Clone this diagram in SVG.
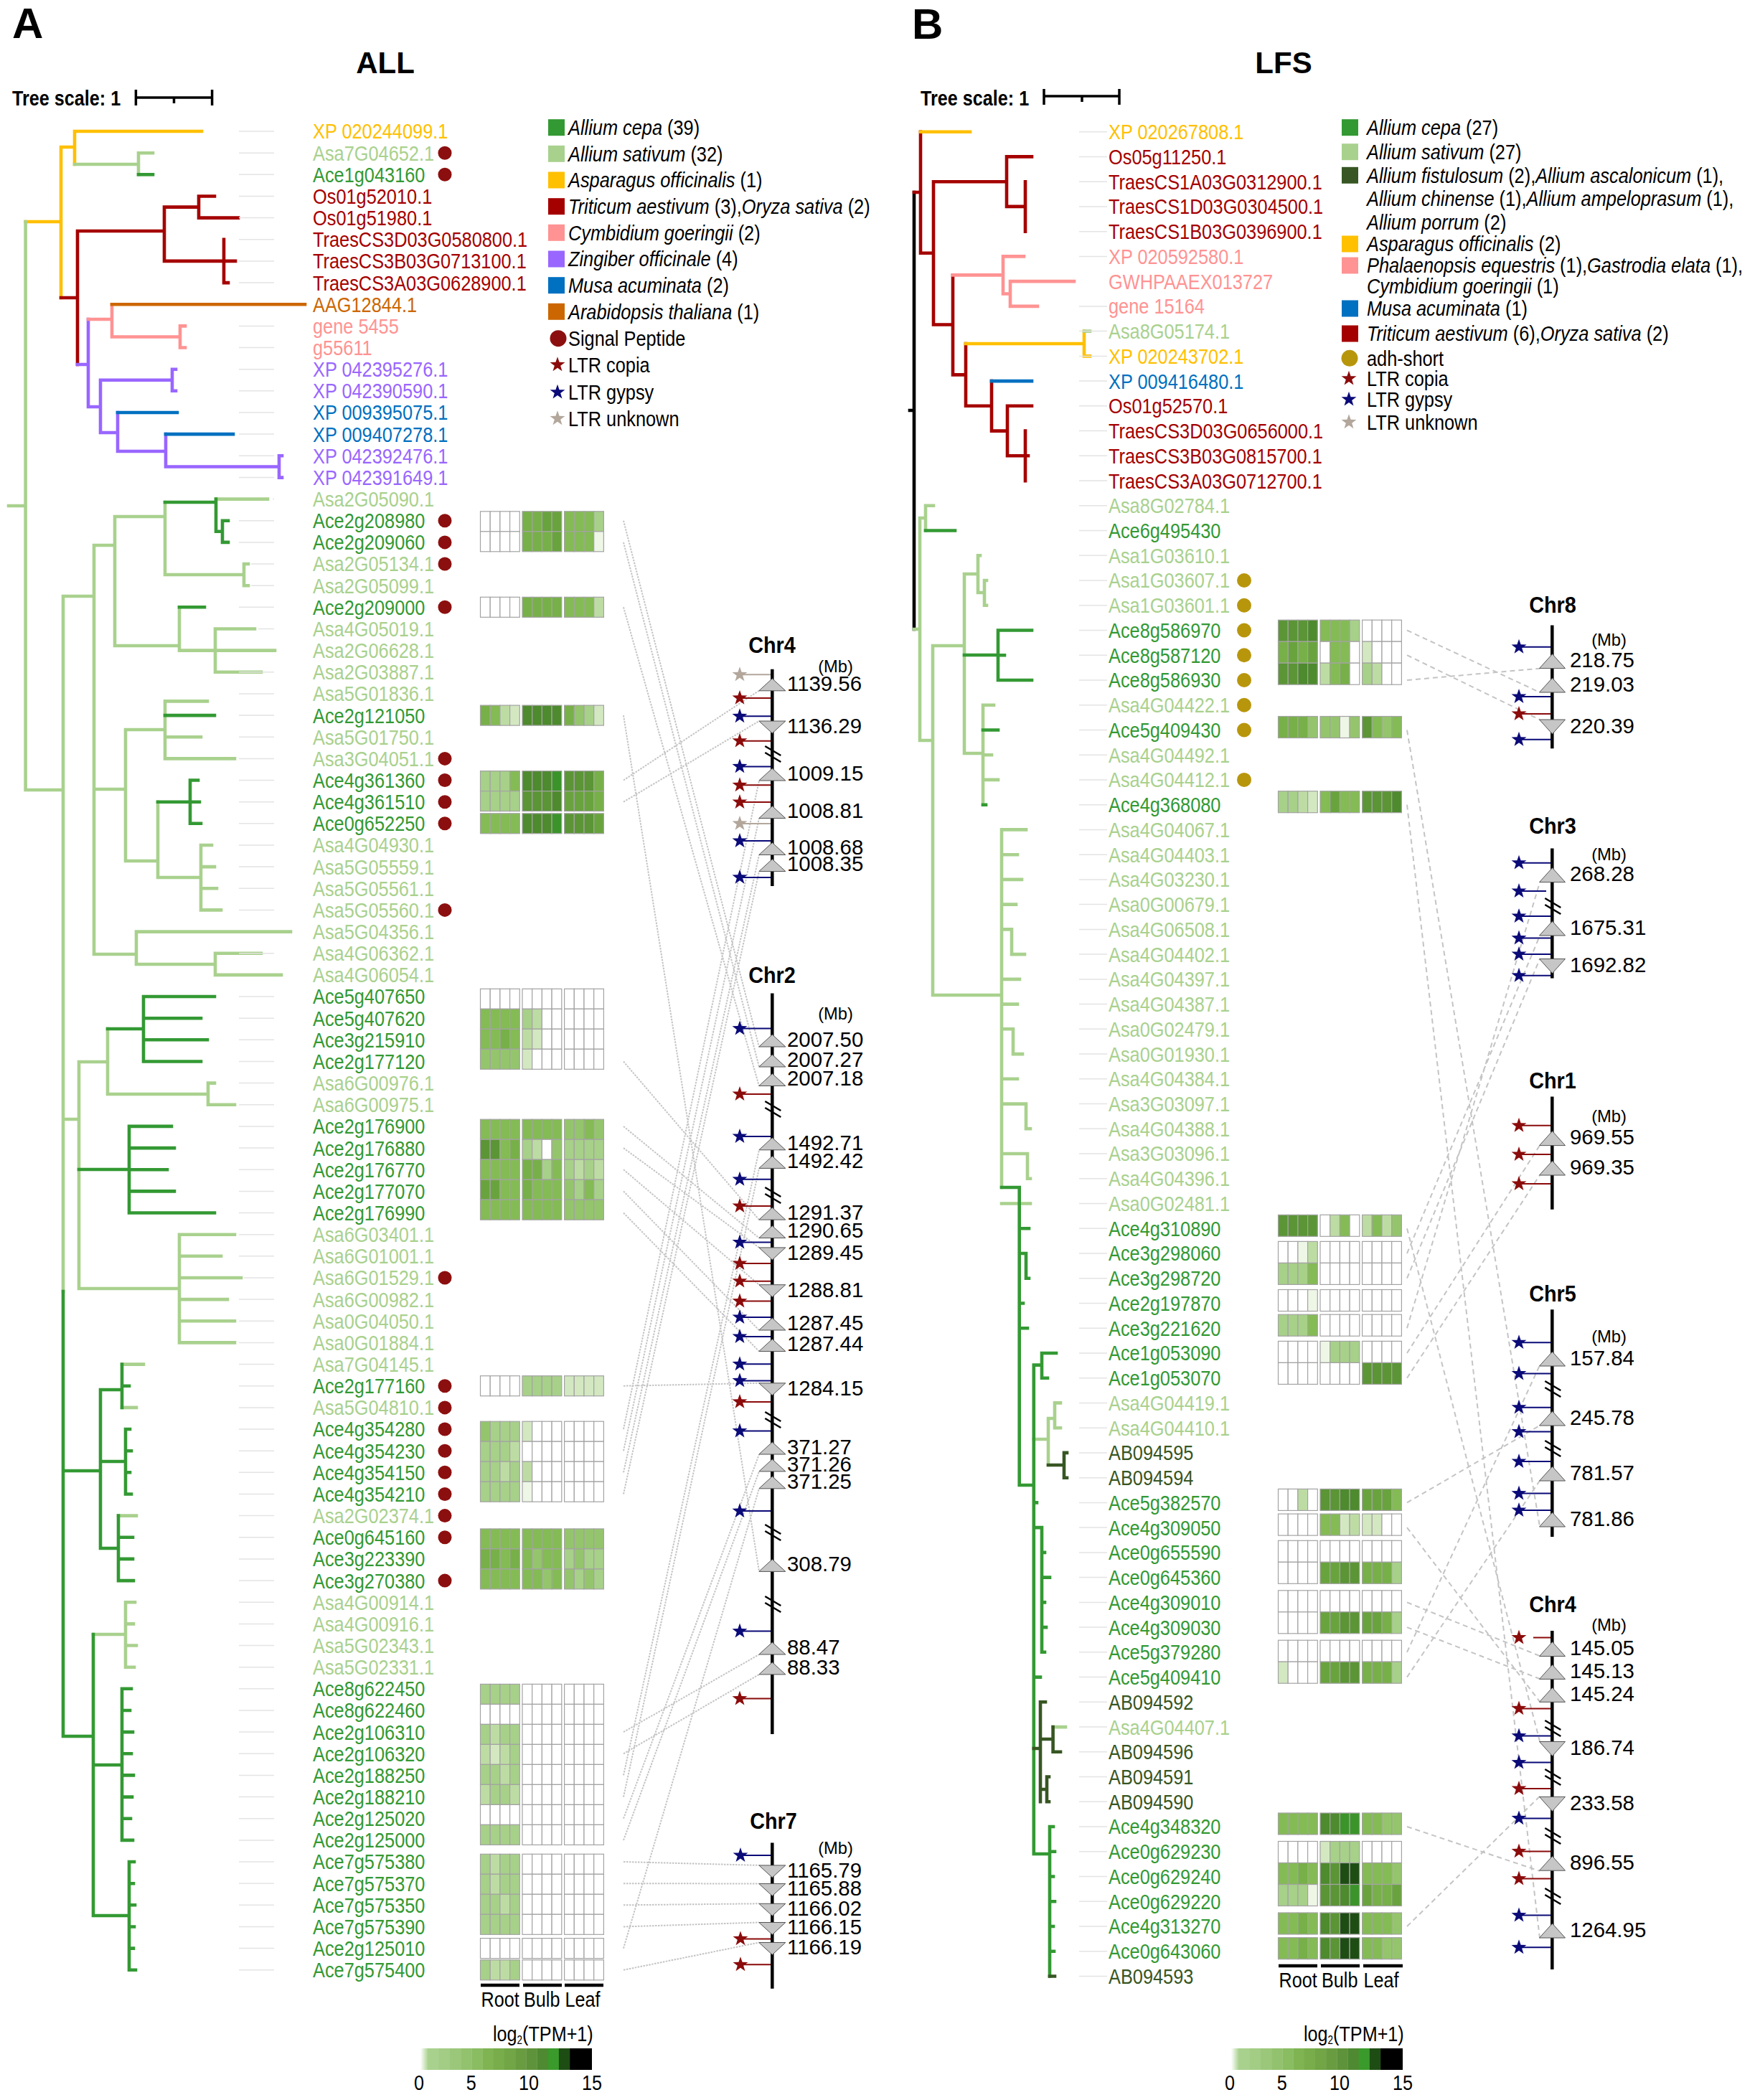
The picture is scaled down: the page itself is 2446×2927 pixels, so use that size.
<svg xmlns="http://www.w3.org/2000/svg" width="2446" height="2927" viewBox="0 0 2446 2927">
<defs>
<style>
text{font-family:"Liberation Sans",Arial,Helvetica,sans-serif;font-size:30px}
.b{font-weight:bold}
.i{font-style:italic}
.cl{font-size:24.5px}
.ce{fill:#339933}.sa{fill:#a9d18e}.as{fill:#ffc000}.tr{fill:#a50000}.cy{fill:#ff9393}.zi{fill:#9966ff}.mu{fill:#0070c0}.ar{fill:#cc6600}.fi{fill:#375623}
.T{fill:none;stroke-width:4.6;stroke-linecap:square}
.sC{stroke:#339933}.sS{stroke:#a9d18e}.sA{stroke:#ffc000}.sT{stroke:#a50000}.sP{stroke:#ff9393}.sZ{stroke:#9966ff}.sM{stroke:#0070c0}.sR{stroke:#cc6600}.sF{stroke:#375623}.sK{stroke:#000}
.hm rect{stroke:#a3a3a3;stroke-width:1.2}
.hA rect{width:13.7px;height:28px}
.hB rect{width:13.7px;height:30px}
.k0{fill:#fff}.k1{fill:#eef6e6}.k2{fill:#d3e8c1}.k3{fill:#bddca3}.k4{fill:#a7d089}.k5{fill:#94c56c}.k6{fill:#84bb55}.k7{fill:#77b048}.k8{fill:#69a33e}.k9{fill:#5b9536}.k10{fill:#4e8a2e}.k11{fill:#3b9429}.k12{fill:#1e4d14}
.cn{fill:none;stroke:#c4c4c4;stroke-width:2;stroke-dasharray:2.5 1.5}
.cnB{fill:none;stroke:#c4c4c4;stroke-width:2;stroke-dasharray:7 5}
.sr{fill:#8b0b0b}.sn{fill:#0a0a78}.su{fill:#b3a79c}
.lr{stroke:#8b0b0b;stroke-width:2;fill:none}.ln{stroke:#0a0a78;stroke-width:2;fill:none}.lu{stroke:#b3a79c;stroke-width:2;fill:none}
.chr{stroke:#000;stroke-width:4.5;fill:none}
.tri{fill:#c6c6c6;stroke:#555;stroke-width:1}
.ld{stroke:#e4e4e4;stroke-width:1.5;fill:none}
</style>
<path id="st" d="M0,-11L2.59,-3.56L10.46,-3.4L4.18,1.36L6.47,8.9L0,4.4L-6.47,8.9L-4.18,1.36L-10.46,-3.4L-2.59,-3.56Z"/>
<path id="ta" d="M0,-8.5L18.5,8.5H-18.5Z"/>
<path id="da" d="M-18.5,-8.5H18.5L0,8.5Z"/>
<path id="tb" d="M0,-10L18,10H-18Z"/>
<path id="db" d="M-18,-10H18L0,10Z"/>
<path id="bk" d="M-10,0L12,13M-10,9L12,22" stroke="#000" stroke-width="2.5" fill="none"/>
<g id="wa" fill="#fff" stroke="#a3a3a3" stroke-width="1.2"><rect width="13.7" height="28"/><rect x="13.7" width="13.7" height="28"/><rect x="27.4" width="13.7" height="28"/><rect x="41.1" width="13.7" height="28"/></g>
<g id="wb" fill="#fff" stroke="#a3a3a3" stroke-width="1.2"><rect width="13.7" height="30"/><rect x="13.7" width="13.7" height="30"/><rect x="27.4" width="13.7" height="30"/><rect x="41.1" width="13.7" height="30"/></g>
<linearGradient id="gz" x1="0" x2="1" y1="0" y2="0"><stop offset="0" stop-color="#fff"/><stop offset="1" stop-color="#a9d18e"/></linearGradient>
</defs>
<rect width="2446" height="2927" fill="#fff"/>

<text class="b" x="17" y="53" style="font-size:60px">A</text>
<text class="b" x="1271" y="54" style="font-size:60px">B</text>
<text class="b" x="537" y="102" text-anchor="middle" style="font-size:42px">ALL</text>
<text class="b" x="1789" y="102" text-anchor="middle" style="font-size:42px">LFS</text>
<text class="b" transform="translate(17,146.5) scale(0.84,1)">Tree scale: 1</text>
<text class="b" transform="translate(1283,147) scale(0.84,1)">Tree scale: 1</text>
<path d="M189.4,136H295.6M189.4,125V147M295.6,125V147M242.5,136V144M1455,134H1560M1455,124V146M1560,124V146M1508,134V142" stroke="#000" stroke-width="3.5" fill="none"/>

<g id="treeA" class="T">
<path class="sA" d="M35.6,309H85M85,205V415M85,205H104M104,183V229M104,183H281"/>
<path class="sS" d="M104,229H193M193,213.2V243.3M193,213.2H213"/>
<path class="sC" d="M193,243.3H213"/>
<path class="sT" d="M85,415H108M108,322V508M108,322H229M229,288.6V363.9M229,288.6H277M277,273.5V303.6M277,273.5H299M277,303.6H332M229,363.9H312M312,333.8V394.1M312,363.9H328M312,394.1H318"/>
<path class="sZ" d="M108,508H123M123,445V567M123,567H140M140,529.8V603M140,529.8H240M240,514.7V544.8M240,514.7H245M240,544.8H245M140,603H164M164,575V629M164,629H231M231,605.1V650.5M231,650.5H389M389,635.3V665.6M389,635.3H393M389,665.6H393"/>
<path class="sP" d="M123,445H156M156,424.2V469.5M156,469.5H251M251,454.4V484.5M251,454.4H258M251,484.5H258"/>
<path class="sR" d="M156,424.2H425"/>
<path class="sM" d="M164,575H247M231,605.1H325"/>
<path class="sS" d="M35.6,309V1101M12,705H35.6M35.6,1101H88M88,831V1800M88,831H131M131,760V1330M131,760H160M160,720V900M160,720H230M230,700V801M301,695.6H373M230,801H340M340,786V816.2M340,786H346M340,816.2H346M160,900H250M250,846.3V906.6M250,906.6H300M300,876.5V936.8M300,876.5H355M300,906.6H383M300,936.8H364M131,1100H175M175,1017V1200M175,1017H230M230,977.4V1057.4M230,977.4H289M230,1027.2H280M230,1057.4H327M175,1200H220M220,1117.7V1223M220,1223H280M280,1178V1268.4M280,1178H295M280,1208.1H299M280,1238.3H302M280,1268.4H308M131,1330H190M190,1298.6V1344M190,1298.6H405M190,1344H300M300,1328.7V1358.9M300,1328.7H364M300,1358.9H392M88,1560H110M110,1480V1796M110,1480H150M150,1434V1525M150,1525H290M290,1509.6V1539.8M290,1509.6H299M290,1539.8H327M110,1796H250M250,1720.7V1871.4M250,1720.7H327M250,1750.8H308M250,1781H336M250,1811.1H317M250,1841.3H327M250,1871.4H327M170,1901.6H200M170,1961.9H190M165,2112.6H190M130,2278H175M175,2233.2V2323.7M175,2233.2H188M175,2263.4H186M175,2293.5H190M175,2323.7H187"/>
<path class="sC" d="M88,1800V2420M230,700H301M301,695.6V740.8M301,740.8H310M310,725.7V755.9M310,725.7H318M310,755.9H318M250,846.3H285M230,997.1H299M220,1117.7H265M265,1087.5V1147.8M265,1087.5H276M265,1117.7H278M265,1147.8H280M150,1434H200M200,1389V1479.5M200,1389H299M200,1419.2H280M200,1449.3H289M200,1479.5H280M110,1630H180M180,1569.9V1690.5M180,1569.9H239M180,1600.1H243M180,1630.2H233M180,1660.4H243M180,1690.5H299M88,2050H140M140,1937V2158M140,1937H170M170,1901.6V1961.9M170,1931.7H180M140,2037H175M175,1992V2082.5M175,1992H181M175,2022.2H183M175,2052.3H181M175,2082.5H183M140,2158H165M165,2112.6V2203.1M165,2142.8H185M165,2172.9H185M165,2203.1H186M88,2420H130M130,2278V2670M130,2460H170M170,2353.8V2564.9M170,2353.8H183M170,2384H181M170,2414.1H185M170,2444.3H183M170,2474.4H186M170,2504.6H184M170,2534.7H182M170,2564.9H185M130,2670H180M180,2595V2745.8M180,2595H187M180,2625.2H186M180,2655.3H188M180,2685.5H187M180,2715.6H186M180,2745.8H189"/>
</g>

<g id="treeB" class="T">
<path class="sK" d="M1274,268V877M1268,572H1274"/>
<path class="sT" d="M1274,268H1283M1283,183.7V352.8M1283,352.8H1301M1301,253.2V452.5M1301,253.2H1403M1403,218.4V287.9M1403,218.4H1438M1403,287.9H1429M1429,253.2V322.7M1301,452.5H1328M1328,383.4V522.4M1328,522.4H1346M1346,479V565.8M1346,565.8H1382M1382,531.1V600.6M1382,600.6H1404M1404,565.8V635.3M1404,565.8H1438M1404,635.3H1429M1429,600.6V670.1M1429,635.3H1433"/>
<path class="sA" d="M1283,183.7H1352M1346,479H1511M1511,461.6V496.4M1511,496.4H1519"/>
<path class="sS" d="M1511,461.6H1519"/>
<path class="sP" d="M1328,383.4H1398M1398,357.4V409.5M1398,357.4H1427M1398,409.5H1408M1408,392.1V426.9M1408,392.1H1497M1408,426.9H1446"/>
<path class="sM" d="M1382,531.1H1438"/>
<path class="sS" d="M1274,877H1282M1282,722V1032M1282,722H1290M1290,704.8V739.5M1290,704.8H1301M1282,1032H1300M1300,900V1387M1300,900H1344M1344,800V1050M1344,800H1363M1363,774.3V826M1363,774.3H1366M1363,826H1372M1372,809V843.8M1372,809H1375M1372,843.8H1375M1344,1050H1370M1370,982.7V1121.7M1370,982.7H1385M1370,1052.2H1382M1370,1086.9H1391M1300,1387H1396M1396,1156.4V1655M1396,1156.4H1430M1396,1191.2H1418M1396,1225.9H1424M1396,1260.6H1416M1396,1295.4H1410M1410,1295.4V1330.1M1410,1330.1H1428M1396,1364.9H1421M1396,1399.6H1418M1396,1434.3H1412M1412,1434.3V1469.1M1412,1469.1H1425M1396,1503.8H1418M1396,1538.6H1430M1430,1538.6V1573.3M1430,1573.3H1436M1396,1608H1432M1432,1608V1642.8M1432,1642.8H1436M1396,1677.5H1436M1440.8,2006H1461M1461,1977V2042M1461,1977H1470M1470,1955.4V1990.2M1470,1955.4H1478M1470,1990.2H1478M1467.6,2407.1H1485"/>
<path class="sC" d="M1290,739.5H1331M1344,913H1391M1391,878.5V948M1391,878.5H1438M1391,913.2H1400M1391,948H1438M1370,1017.5H1391M1370,1121.7H1374M1396,1655H1420.7M1420.7,1655V2070M1420.7,1712.3H1434M1420.7,1747H1430M1430,1747V1781.7M1430,1781.7H1434M1420.7,1816.5H1426M1420.7,1851.2H1432M1420.7,2070H1440.8M1440.8,1902.6V2584M1440.8,1902.6H1452M1452,1886V1920.7M1452,1886H1472M1452,1920.7H1460M1440.8,2094.4H1445M1440.8,2129.1H1452M1452,2129.1V2302.8M1452,2163.9H1456M1452,2198.6H1463M1452,2233.4H1456M1452,2268.1H1458M1452,2302.8H1456M1440.8,2337.6H1450M1440.8,2584H1463M1463,2546V2754.5M1463,2546H1468M1463,2580.8H1470M1463,2615.5H1468M1463,2650.2H1470M1463,2685H1468M1463,2719.7H1469"/>
<path class="sF" d="M1461,2042H1483M1483,2024.9V2059.7M1483,2024.9H1487M1483,2059.7H1487M1440.8,2437H1450M1450,2372.3V2511.3M1450,2372.3H1457M1450,2424H1467.6M1467.6,2407.1V2441.8M1467.6,2441.8H1478M1450,2494H1459M1459,2476.5V2511.3M1459,2476.5H1462M1459,2511.3H1462M1463,2754.5H1470"/>
</g>

<path class="ld" d="M333,183H382M333,213.2H382M333,243.3H382M333,273.5H382M333,303.6H382M333,333.8H382M333,363.9H382M333,394.1H382M333,454.4H382M333,484.5H382M333,514.7H382M333,544.8H382M333,575H382M333,605.1H382M333,635.3H382M333,665.4H382M380,695.6H382M333,725.7H382M333,755.9H382M350,786H382M350,816.2H382M333,846.3H382M360,876.5H382M333,936.8H382M333,966.9H382M333,997.1H382M333,1027.2H382M333,1057.4H382M333,1087.5H382M333,1117.7H382M333,1147.8H382M333,1178H382M333,1208.1H382M333,1238.3H382M333,1268.4H382M333,1328.7H382M333,1389H382M333,1419.2H382M333,1449.3H382M333,1479.5H382M333,1509.6H382M333,1539.8H382M333,1569.9H382M333,1600.1H382M333,1630.2H382M333,1660.4H382M333,1690.5H382M333,1720.7H382M333,1750.8H382M340,1781H382M333,1811.1H382M333,1841.3H382M333,1871.4H382M333,1901.6H382M333,1931.7H382M333,1961.9H382M333,1992H382M333,2022.2H382M333,2052.3H382M333,2082.5H382M333,2112.6H382M333,2142.8H382M333,2172.9H382M333,2203.1H382M333,2233.2H382M333,2263.4H382M333,2293.5H382M333,2323.7H382M333,2353.8H382M333,2384H382M333,2414.1H382M333,2444.3H382M333,2474.4H382M333,2504.6H382M333,2534.7H382M333,2564.9H382M333,2595H382M333,2625.2H382M333,2655.3H382M333,2685.5H382M333,2715.6H382M333,2745.8H382"/>
<path class="ld" d="M1504,183.7H1543M1504,218.4H1543M1504,253.2H1543M1504,287.9H1543M1504,322.7H1543M1504,357.4H1543M1504,426.9H1543M1504,461.6H1543M1504,496.4H1543M1504,531.1H1543M1504,565.8H1543M1504,600.6H1543M1504,635.3H1543M1504,670.1H1543M1504,704.8H1543M1504,739.5H1543M1504,774.3H1543M1504,809H1543M1504,843.8H1543M1504,878.5H1543M1504,913.2H1543M1504,948H1543M1504,982.7H1543M1504,1017.5H1543M1504,1052.2H1543M1504,1086.9H1543M1504,1121.7H1543M1504,1156.4H1543M1504,1191.2H1543M1504,1225.9H1543M1504,1260.6H1543M1504,1295.4H1543M1504,1330.1H1543M1504,1364.9H1543M1504,1399.6H1543M1504,1434.3H1543M1504,1469.1H1543M1504,1503.8H1543M1504,1538.6H1543M1504,1573.3H1543M1504,1608H1543M1504,1642.8H1543M1504,1677.5H1543M1504,1712.3H1543M1504,1747H1543M1504,1781.7H1543M1504,1816.5H1543M1504,1851.2H1543M1504,1886H1543M1504,1920.7H1543M1504,1955.4H1543M1504,1990.2H1543M1504,2024.9H1543M1504,2059.7H1543M1504,2094.4H1543M1504,2129.1H1543M1504,2163.9H1543M1504,2198.6H1543M1504,2233.4H1543M1504,2268.1H1543M1504,2302.8H1543M1504,2337.6H1543M1504,2372.3H1543M1504,2407.1H1543M1504,2441.8H1543M1504,2476.5H1543M1504,2511.3H1543M1504,2546H1543M1504,2580.8H1543M1504,2615.5H1543M1504,2650.2H1543M1504,2685H1543M1504,2719.7H1543M1504,2754.5H1543"/>

<g id="labelsA" transform="translate(436,0) scale(0.845,1)">
<text class="as" y="193.5">XP 020244099.1</text>
<text class="sa" y="223.7">Asa7G04652.1</text>
<text class="ce" y="253.8">Ace1g043160</text>
<text class="tr" y="284">Os01g52010.1</text>
<text class="tr" y="314.1">Os01g51980.1</text>
<text class="tr" y="344.3">TraesCS3D03G0580800.1</text>
<text class="tr" y="374.4">TraesCS3B03G0713100.1</text>
<text class="tr" y="404.6">TraesCS3A03G0628900.1</text>
<text class="ar" y="434.7">AAG12844.1</text>
<text class="cy" y="464.9">gene 5455</text>
<text class="cy" y="495">g55611</text>
<text class="zi" y="525.2">XP 042395276.1</text>
<text class="zi" y="555.3">XP 042390590.1</text>
<text class="mu" y="585.5">XP 009395075.1</text>
<text class="mu" y="615.6">XP 009407278.1</text>
<text class="zi" y="645.8">XP 042392476.1</text>
<text class="zi" y="675.9">XP 042391649.1</text>
<text class="sa" y="706.1">Asa2G05090.1</text>
<text class="ce" y="736.2">Ace2g208980</text>
<text class="ce" y="766.4">Ace2g209060</text>
<text class="sa" y="796.5">Asa2G05134.1</text>
<text class="sa" y="826.7">Asa2G05099.1</text>
<text class="ce" y="856.8">Ace2g209000</text>
<text class="sa" y="887">Asa4G05019.1</text>
<text class="sa" y="917.1">Asa2G06628.1</text>
<text class="sa" y="947.3">Asa2G03887.1</text>
<text class="sa" y="977.4">Asa5G01836.1</text>
<text class="ce" y="1007.6">Ace2g121050</text>
<text class="sa" y="1037.7">Asa5G01750.1</text>
<text class="sa" y="1067.9">Asa3G04051.1</text>
<text class="ce" y="1098">Ace4g361360</text>
<text class="ce" y="1128.2">Ace4g361510</text>
<text class="ce" y="1158.3">Ace0g652250</text>
<text class="sa" y="1188.5">Asa4G04930.1</text>
<text class="sa" y="1218.6">Asa5G05559.1</text>
<text class="sa" y="1248.8">Asa5G05561.1</text>
<text class="sa" y="1278.9">Asa5G05560.1</text>
<text class="sa" y="1309.1">Asa5G04356.1</text>
<text class="sa" y="1339.2">Asa4G06362.1</text>
<text class="sa" y="1369.4">Asa4G06054.1</text>
<text class="ce" y="1399.5">Ace5g407650</text>
<text class="ce" y="1429.7">Ace5g407620</text>
<text class="ce" y="1459.8">Ace3g215910</text>
<text class="ce" y="1490">Ace2g177120</text>
<text class="sa" y="1520.1">Asa6G00976.1</text>
<text class="sa" y="1550.3">Asa6G00975.1</text>
<text class="ce" y="1580.4">Ace2g176900</text>
<text class="ce" y="1610.6">Ace2g176880</text>
<text class="ce" y="1640.7">Ace2g176770</text>
<text class="ce" y="1670.9">Ace2g177070</text>
<text class="ce" y="1701">Ace2g176990</text>
<text class="sa" y="1731.2">Asa6G03401.1</text>
<text class="sa" y="1761.3">Asa6G01001.1</text>
<text class="sa" y="1791.5">Asa6G01529.1</text>
<text class="sa" y="1821.6">Asa6G00982.1</text>
<text class="sa" y="1851.8">Asa0G04050.1</text>
<text class="sa" y="1881.9">Asa0G01884.1</text>
<text class="sa" y="1912.1">Asa7G04145.1</text>
<text class="ce" y="1942.2">Ace2g177160</text>
<text class="sa" y="1972.4">Asa5G04810.1</text>
<text class="ce" y="2002.5">Ace4g354280</text>
<text class="ce" y="2032.7">Ace4g354230</text>
<text class="ce" y="2062.8">Ace4g354150</text>
<text class="ce" y="2093">Ace4g354210</text>
<text class="sa" y="2123.1">Asa2G02374.1</text>
<text class="ce" y="2153.3">Ace0g645160</text>
<text class="ce" y="2183.4">Ace3g223390</text>
<text class="ce" y="2213.6">Ace3g270380</text>
<text class="sa" y="2243.7">Asa4G00914.1</text>
<text class="sa" y="2273.9">Asa4G00916.1</text>
<text class="sa" y="2304">Asa5G02343.1</text>
<text class="sa" y="2334.2">Asa5G02331.1</text>
<text class="ce" y="2364.3">Ace8g622450</text>
<text class="ce" y="2394.5">Ace8g622460</text>
<text class="ce" y="2424.6">Ace2g106310</text>
<text class="ce" y="2454.8">Ace2g106320</text>
<text class="ce" y="2484.9">Ace2g188250</text>
<text class="ce" y="2515.1">Ace2g188210</text>
<text class="ce" y="2545.2">Ace2g125020</text>
<text class="ce" y="2575.4">Ace2g125000</text>
<text class="ce" y="2605.5">Ace7g575380</text>
<text class="ce" y="2635.7">Ace7g575370</text>
<text class="ce" y="2665.8">Ace7g575350</text>
<text class="ce" y="2696">Ace7g575390</text>
<text class="ce" y="2726.1">Ace2g125010</text>
<text class="ce" y="2756.3">Ace7g575400</text>
</g>

<g id="labelsB" transform="translate(1545,0) scale(0.845,1)">
<text class="as" y="194.2">XP 020267808.1</text>
<text class="tr" y="228.9">Os05g11250.1</text>
<text class="tr" y="263.7">TraesCS1A03G0312900.1</text>
<text class="tr" y="298.4">TraesCS1D03G0304500.1</text>
<text class="tr" y="333.2">TraesCS1B03G0396900.1</text>
<text class="cy" y="367.9">XP 020592580.1</text>
<text class="cy" y="402.6">GWHPAAEX013727</text>
<text class="cy" y="437.4">gene 15164</text>
<text class="sa" y="472.1">Asa8G05174.1</text>
<text class="as" y="506.9">XP 020243702.1</text>
<text class="mu" y="541.6">XP 009416480.1</text>
<text class="tr" y="576.3">Os01g52570.1</text>
<text class="tr" y="611.1">TraesCS3D03G0656000.1</text>
<text class="tr" y="645.8">TraesCS3B03G0815700.1</text>
<text class="tr" y="680.6">TraesCS3A03G0712700.1</text>
<text class="sa" y="715.3">Asa8G02784.1</text>
<text class="ce" y="750">Ace6g495430</text>
<text class="sa" y="784.8">Asa1G03610.1</text>
<text class="sa" y="819.5">Asa1G03607.1</text>
<text class="sa" y="854.3">Asa1G03601.1</text>
<text class="ce" y="889">Ace8g586970</text>
<text class="ce" y="923.7">Ace8g587120</text>
<text class="ce" y="958.5">Ace8g586930</text>
<text class="sa" y="993.2">Asa4G04422.1</text>
<text class="ce" y="1028">Ace5g409430</text>
<text class="sa" y="1062.7">Asa4G04492.1</text>
<text class="sa" y="1097.4">Asa4G04412.1</text>
<text class="ce" y="1132.2">Ace4g368080</text>
<text class="sa" y="1166.9">Asa4G04067.1</text>
<text class="sa" y="1201.7">Asa4G04403.1</text>
<text class="sa" y="1236.4">Asa4G03230.1</text>
<text class="sa" y="1271.1">Asa0G00679.1</text>
<text class="sa" y="1305.9">Asa4G06508.1</text>
<text class="sa" y="1340.6">Asa4G04402.1</text>
<text class="sa" y="1375.4">Asa4G04397.1</text>
<text class="sa" y="1410.1">Asa4G04387.1</text>
<text class="sa" y="1444.8">Asa0G02479.1</text>
<text class="sa" y="1479.6">Asa0G01930.1</text>
<text class="sa" y="1514.3">Asa4G04384.1</text>
<text class="sa" y="1549.1">Asa3G03097.1</text>
<text class="sa" y="1583.8">Asa4G04388.1</text>
<text class="sa" y="1618.5">Asa3G03096.1</text>
<text class="sa" y="1653.3">Asa4G04396.1</text>
<text class="sa" y="1688">Asa0G02481.1</text>
<text class="ce" y="1722.8">Ace4g310890</text>
<text class="ce" y="1757.5">Ace3g298060</text>
<text class="ce" y="1792.2">Ace3g298720</text>
<text class="ce" y="1827">Ace2g197870</text>
<text class="ce" y="1861.7">Ace3g221620</text>
<text class="ce" y="1896.5">Ace1g053090</text>
<text class="ce" y="1931.2">Ace1g053070</text>
<text class="sa" y="1965.9">Asa4G04419.1</text>
<text class="sa" y="2000.7">Asa4G04410.1</text>
<text class="fi" y="2035.4">AB094595</text>
<text class="fi" y="2070.2">AB094594</text>
<text class="ce" y="2104.9">Ace5g382570</text>
<text class="ce" y="2139.6">Ace4g309050</text>
<text class="ce" y="2174.4">Ace0g655590</text>
<text class="ce" y="2209.1">Ace0g645360</text>
<text class="ce" y="2243.9">Ace4g309010</text>
<text class="ce" y="2278.6">Ace4g309030</text>
<text class="ce" y="2313.3">Ace5g379280</text>
<text class="ce" y="2348.1">Ace5g409410</text>
<text class="fi" y="2382.8">AB094592</text>
<text class="sa" y="2417.6">Asa4G04407.1</text>
<text class="fi" y="2452.3">AB094596</text>
<text class="fi" y="2487">AB094591</text>
<text class="fi" y="2521.8">AB094590</text>
<text class="ce" y="2556.5">Ace4g348320</text>
<text class="ce" y="2591.3">Ace0g629230</text>
<text class="ce" y="2626">Ace0g629240</text>
<text class="ce" y="2660.7">Ace0g629220</text>
<text class="ce" y="2695.5">Ace4g313270</text>
<text class="ce" y="2730.2">Ace0g643060</text>
<text class="fi" y="2765">AB094593</text>
</g>

<g id="dotsA" fill="#8c0f0f">
<circle cx="620" cy="213.2" r="9.5"/><circle cx="620" cy="243.3" r="9.5"/><circle cx="620" cy="725.7" r="9.5"/><circle cx="620" cy="755.9" r="9.5"/><circle cx="620" cy="786" r="9.5"/><circle cx="620" cy="846.3" r="9.5"/><circle cx="620" cy="1057.4" r="9.5"/><circle cx="620" cy="1087.5" r="9.5"/><circle cx="620" cy="1117.7" r="9.5"/><circle cx="620" cy="1147.8" r="9.5"/><circle cx="620" cy="1268.4" r="9.5"/><circle cx="620" cy="1781" r="9.5"/><circle cx="620" cy="1931.7" r="9.5"/><circle cx="620" cy="1961.9" r="9.5"/><circle cx="620" cy="1992" r="9.5"/><circle cx="620" cy="2022.2" r="9.5"/><circle cx="620" cy="2052.3" r="9.5"/><circle cx="620" cy="2082.5" r="9.5"/><circle cx="620" cy="2112.6" r="9.5"/><circle cx="620" cy="2142.8" r="9.5"/><circle cx="620" cy="2203.1" r="9.5"/>
</g>
<g id="dotsB" fill="#b8960c">
<circle cx="1734" cy="809" r="10"/><circle cx="1734" cy="843.8" r="10"/><circle cx="1734" cy="878.5" r="10"/><circle cx="1734" cy="913.2" r="10"/><circle cx="1734" cy="948" r="10"/><circle cx="1734" cy="982.7" r="10"/><circle cx="1734" cy="1017.5" r="10"/><circle cx="1734" cy="1086.9" r="10"/>
</g>

<g id="legendA">
<rect x="764" y="166.2" width="23" height="23" fill="#339933"/>
<rect x="764" y="202.8" width="23" height="23" fill="#a9d18e"/>
<rect x="764" y="239.5" width="23" height="23" fill="#ffc000"/>
<rect x="764" y="276.2" width="23" height="23" fill="#a50000"/>
<rect x="764" y="312.8" width="23" height="23" fill="#ff9393"/>
<rect x="764" y="349.5" width="23" height="23" fill="#9966ff"/>
<rect x="764" y="386.2" width="23" height="23" fill="#0070c0"/>
<rect x="764" y="422.8" width="23" height="23" fill="#cc6600"/>
<circle cx="778" cy="471.7" r="11.5" fill="#8c0f0f"/>
<use href="#st" x="777" y="508.3" class="sr"/>
<use href="#st" x="777" y="546.7" class="sn"/>
<use href="#st" x="777" y="583.3" class="su"/>
<g transform="translate(792,0) scale(0.845,1)">
<text y="188.2"><tspan class="i">Allium cepa</tspan> (39)</text>
<text y="224.8"><tspan class="i">Allium sativum</tspan> (32)</text>
<text y="261.5"><tspan class="i">Asparagus officinalis</tspan> (1)</text>
<text y="298.2"><tspan class="i">Triticum aestivum</tspan> (3),<tspan class="i">Oryza sativa</tspan> (2)</text>
<text y="334.8"><tspan class="i">Cymbidium goeringii</tspan> (2)</text>
<text y="371.5"><tspan class="i">Zingiber officinale</tspan> (4)</text>
<text y="408.2"><tspan class="i">Musa acuminata</tspan> (2)</text>
<text y="444.8"><tspan class="i">Arabidopsis thaliana</tspan> (1)</text>
<text y="482.2">Signal Peptide</text>
<text y="518.8">LTR copia</text>
<text y="557.2">LTR gypsy</text>
<text y="593.8">LTR unknown</text>
</g>
</g>

<g id="legendB">
<rect x="1870" y="166.2" width="23" height="23" fill="#339933"/>
<rect x="1870" y="200.2" width="23" height="23" fill="#a9d18e"/>
<rect x="1870" y="232.8" width="23" height="23" fill="#375623"/>
<rect x="1870" y="328.5" width="23" height="23" fill="#ffc000"/>
<rect x="1870" y="358.5" width="23" height="23" fill="#ff9393"/>
<rect x="1870" y="418.5" width="23" height="23" fill="#0070c0"/>
<rect x="1870" y="453.5" width="23" height="23" fill="#a50000"/>
<circle cx="1881" cy="499.3" r="11.5" fill="#b8960c"/>
<use href="#st" x="1880" y="527.7" class="sr"/>
<use href="#st" x="1880" y="556.7" class="sn"/>
<use href="#st" x="1880" y="588.3" class="su"/>
<g transform="translate(1905,0) scale(0.845,1)">
<text y="188.2"><tspan class="i">Allium cepa</tspan> (27)</text>
<text y="222.2"><tspan class="i">Allium sativum</tspan> (27)</text>
<text y="254.8"><tspan class="i">Allium fistulosum</tspan> (2),<tspan class="i">Allium ascalonicum</tspan> (1),</text>
<text y="287.2"><tspan class="i">Allium chinense</tspan> (1),<tspan class="i">Allium ampeloprasum</tspan> (1),</text>
<text y="320.5"><tspan class="i">Allium porrum</tspan> (2)</text>
<text y="350.5"><tspan class="i">Asparagus officinalis</tspan> (2)</text>
<text y="380.5"><tspan class="i">Phalaenopsis equestris</tspan> (1),<tspan class="i">Gastrodia elata</tspan> (1),</text>
<text y="408.8"><tspan class="i">Cymbidium goeringii</tspan> (1)</text>
<text y="440.5"><tspan class="i">Musa acuminata</tspan> (1)</text>
<text y="475.5"><tspan class="i">Triticum aestivum</tspan> (6),<tspan class="i">Oryza sativa</tspan> (2)</text>
<text y="509.8">adh-short</text>
<text y="538.2">LTR copia</text>
<text y="567.2">LTR gypsy</text>
<text y="598.8">LTR unknown</text>
</g>
</g>

<g id="heatA" class="hm hA">
<g transform="translate(669.5,712.8)"><use href="#wa"/><rect x="58.5" class="k7"/><rect x="72.2" class="k7"/><rect x="85.9" class="k8"/><rect x="99.6" class="k8"/><rect x="117.1" class="k6"/><rect x="130.8" class="k6"/><rect x="144.5" class="k6"/><rect x="158.2" class="k4"/></g>
<g transform="translate(669.5,740.8)"><use href="#wa"/><rect x="58.5" class="k7"/><rect x="72.2" class="k7"/><rect x="85.9" class="k7"/><rect x="99.6" class="k8"/><rect x="117.1" class="k6"/><rect x="130.8" class="k6"/><rect x="144.5" class="k6"/><rect x="158.2" class="k1"/></g>
<g transform="translate(669.5,832.3)"><use href="#wa"/><rect x="58.5" class="k7"/><rect x="72.2" class="k7"/><rect x="85.9" class="k7"/><rect x="99.6" class="k7"/><rect x="117.1" class="k6"/><rect x="130.8" class="k6"/><rect x="144.5" class="k6"/><rect x="158.2" class="k3"/></g>
<g transform="translate(669.5,983.1)"><rect class="k7"/><rect x="13.7" class="k6"/><rect x="27.4" class="k3"/><rect x="41.1" class="k2"/><rect x="58.5" class="k10"/><rect x="72.2" class="k10"/><rect x="85.9" class="k10"/><rect x="99.6" class="k10"/><rect x="117.1" class="k7"/><rect x="130.8" class="k5"/><rect x="144.5" class="k4"/><rect x="158.2" class="k2"/></g>
<g transform="translate(669.5,1074.6)"><rect class="k4"/><rect x="13.7" class="k4"/><rect x="27.4" class="k4"/><rect x="41.1" class="k6"/><rect x="58.5" class="k10"/><rect x="72.2" class="k10"/><rect x="85.9" class="k10"/><rect x="99.6" class="k11"/><rect x="117.1" class="k9"/><rect x="130.8" class="k9"/><rect x="144.5" class="k9"/><rect x="158.2" class="k7"/></g>
<g transform="translate(669.5,1102.6)"><rect class="k4"/><rect x="13.7" class="k4"/><rect x="27.4" class="k4"/><rect x="41.1" class="k4"/><rect x="58.5" class="k9"/><rect x="72.2" class="k9"/><rect x="85.9" class="k9"/><rect x="99.6" class="k10"/><rect x="117.1" class="k8"/><rect x="130.8" class="k8"/><rect x="144.5" class="k8"/><rect x="158.2" class="k7"/></g>
<g transform="translate(669.5,1133.8)"><rect class="k6"/><rect x="13.7" class="k6"/><rect x="27.4" class="k6"/><rect x="41.1" class="k6"/><rect x="58.5" class="k10"/><rect x="72.2" class="k10"/><rect x="85.9" class="k10"/><rect x="99.6" class="k11"/><rect x="117.1" class="k9"/><rect x="130.8" class="k9"/><rect x="144.5" class="k9"/><rect x="158.2" class="k8"/></g>
<g transform="translate(669.5,1378.3)"><use href="#wa"/><use href="#wa" x="58.5"/><use href="#wa" x="117.1"/></g>
<g transform="translate(669.5,1406.3)"><rect class="k6"/><rect x="13.7" class="k6"/><rect x="27.4" class="k6"/><rect x="41.1" class="k6"/><rect x="58.5" class="k4"/><rect x="72.2" class="k3"/><rect x="85.9" class="k0"/><rect x="99.6" class="k0"/><use href="#wa" x="117.1"/></g>
<g transform="translate(669.5,1434.3)"><rect class="k6"/><rect x="13.7" class="k6"/><rect x="27.4" class="k7"/><rect x="41.1" class="k6"/><rect x="58.5" class="k3"/><rect x="72.2" class="k2"/><rect x="85.9" class="k0"/><rect x="99.6" class="k0"/><use href="#wa" x="117.1"/></g>
<g transform="translate(669.5,1462.3)"><rect class="k5"/><rect x="13.7" class="k5"/><rect x="27.4" class="k5"/><rect x="41.1" class="k5"/><rect x="58.5" class="k2"/><rect x="72.2" class="k0"/><rect x="85.9" class="k0"/><rect x="99.6" class="k0"/><use href="#wa" x="117.1"/></g>
<g transform="translate(669.5,1560.2)"><rect class="k6"/><rect x="13.7" class="k6"/><rect x="27.4" class="k6"/><rect x="41.1" class="k6"/><rect x="58.5" class="k6"/><rect x="72.2" class="k6"/><rect x="85.9" class="k6"/><rect x="99.6" class="k6"/><rect x="117.1" class="k5"/><rect x="130.8" class="k5"/><rect x="144.5" class="k6"/><rect x="158.2" class="k5"/></g>
<g transform="translate(669.5,1588.2)"><rect class="k9"/><rect x="13.7" class="k9"/><rect x="27.4" class="k6"/><rect x="41.1" class="k7"/><rect x="58.5" class="k4"/><rect x="72.2" class="k3"/><rect x="85.9" class="k0"/><rect x="99.6" class="k5"/><rect x="117.1" class="k4"/><rect x="130.8" class="k4"/><rect x="144.5" class="k4"/><rect x="158.2" class="k4"/></g>
<g transform="translate(669.5,1616.2)"><rect class="k6"/><rect x="13.7" class="k6"/><rect x="27.4" class="k6"/><rect x="41.1" class="k6"/><rect x="58.5" class="k7"/><rect x="72.2" class="k7"/><rect x="85.9" class="k4"/><rect x="99.6" class="k6"/><rect x="117.1" class="k4"/><rect x="130.8" class="k3"/><rect x="144.5" class="k4"/><rect x="158.2" class="k3"/></g>
<g transform="translate(669.5,1644.2)"><rect class="k8"/><rect x="13.7" class="k8"/><rect x="27.4" class="k6"/><rect x="41.1" class="k6"/><rect x="58.5" class="k7"/><rect x="72.2" class="k6"/><rect x="85.9" class="k6"/><rect x="99.6" class="k6"/><rect x="117.1" class="k5"/><rect x="130.8" class="k4"/><rect x="144.5" class="k6"/><rect x="158.2" class="k4"/></g>
<g transform="translate(669.5,1672.2)"><rect class="k6"/><rect x="13.7" class="k6"/><rect x="27.4" class="k6"/><rect x="41.1" class="k6"/><rect x="58.5" class="k6"/><rect x="72.2" class="k6"/><rect x="85.9" class="k6"/><rect x="99.6" class="k6"/><rect x="117.1" class="k5"/><rect x="130.8" class="k5"/><rect x="144.5" class="k5"/><rect x="158.2" class="k5"/></g>
<g transform="translate(669.5,1917.7)"><use href="#wa"/><rect x="58.5" class="k4"/><rect x="72.2" class="k4"/><rect x="85.9" class="k4"/><rect x="99.6" class="k4"/><rect x="117.1" class="k2"/><rect x="130.8" class="k2"/><rect x="144.5" class="k2"/><rect x="158.2" class="k2"/></g>
<g transform="translate(669.5,1981.2)"><rect class="k5"/><rect x="13.7" class="k4"/><rect x="27.4" class="k4"/><rect x="41.1" class="k4"/><rect x="58.5" class="k2"/><rect x="72.2" class="k0"/><rect x="85.9" class="k0"/><rect x="99.6" class="k0"/><use href="#wa" x="117.1"/></g>
<g transform="translate(669.5,2009.2)"><rect class="k4"/><rect x="13.7" class="k4"/><rect x="27.4" class="k4"/><rect x="41.1" class="k3"/><use href="#wa" x="58.5"/><use href="#wa" x="117.1"/></g>
<g transform="translate(669.5,2037.2)"><rect class="k4"/><rect x="13.7" class="k4"/><rect x="27.4" class="k3"/><rect x="41.1" class="k4"/><rect x="58.5" class="k3"/><rect x="72.2" class="k0"/><rect x="85.9" class="k0"/><rect x="99.6" class="k0"/><use href="#wa" x="117.1"/></g>
<g transform="translate(669.5,2065.2)"><rect class="k4"/><rect x="13.7" class="k4"/><rect x="27.4" class="k4"/><rect x="41.1" class="k4"/><rect x="58.5" class="k1"/><rect x="72.2" class="k0"/><rect x="85.9" class="k0"/><rect x="99.6" class="k0"/><use href="#wa" x="117.1"/></g>
<g transform="translate(669.5,2130.9)"><rect class="k6"/><rect x="13.7" class="k6"/><rect x="27.4" class="k6"/><rect x="41.1" class="k6"/><rect x="58.5" class="k6"/><rect x="72.2" class="k6"/><rect x="85.9" class="k6"/><rect x="99.6" class="k6"/><rect x="117.1" class="k5"/><rect x="130.8" class="k5"/><rect x="144.5" class="k5"/><rect x="158.2" class="k5"/></g>
<g transform="translate(669.5,2158.9)"><rect class="k7"/><rect x="13.7" class="k7"/><rect x="27.4" class="k6"/><rect x="41.1" class="k7"/><rect x="58.5" class="k6"/><rect x="72.2" class="k5"/><rect x="85.9" class="k6"/><rect x="99.6" class="k6"/><rect x="117.1" class="k4"/><rect x="130.8" class="k5"/><rect x="144.5" class="k4"/><rect x="158.2" class="k4"/></g>
<g transform="translate(669.5,2186.9)"><rect class="k6"/><rect x="13.7" class="k6"/><rect x="27.4" class="k6"/><rect x="41.1" class="k6"/><rect x="58.5" class="k6"/><rect x="72.2" class="k6"/><rect x="85.9" class="k5"/><rect x="99.6" class="k6"/><rect x="117.1" class="k5"/><rect x="130.8" class="k4"/><rect x="144.5" class="k5"/><rect x="158.2" class="k4"/></g>
<g transform="translate(669.5,2347.4)"><rect class="k4"/><rect x="13.7" class="k4"/><rect x="27.4" class="k4"/><rect x="41.1" class="k4"/><use href="#wa" x="58.5"/><use href="#wa" x="117.1"/></g>
<g transform="translate(669.5,2375.4)"><use href="#wa"/><use href="#wa" x="58.5"/><use href="#wa" x="117.1"/></g>
<g transform="translate(669.5,2403.4)"><rect class="k4"/><rect x="13.7" class="k3"/><rect x="27.4" class="k4"/><rect x="41.1" class="k4"/><use href="#wa" x="58.5"/><use href="#wa" x="117.1"/></g>
<g transform="translate(669.5,2431.4)"><rect class="k3"/><rect x="13.7" class="k2"/><rect x="27.4" class="k3"/><rect x="41.1" class="k4"/><use href="#wa" x="58.5"/><use href="#wa" x="117.1"/></g>
<g transform="translate(669.5,2459.4)"><rect class="k4"/><rect x="13.7" class="k4"/><rect x="27.4" class="k3"/><rect x="41.1" class="k4"/><use href="#wa" x="58.5"/><use href="#wa" x="117.1"/></g>
<g transform="translate(669.5,2487.4)"><rect class="k3"/><rect x="13.7" class="k4"/><rect x="27.4" class="k4"/><rect x="41.1" class="k3"/><use href="#wa" x="58.5"/><use href="#wa" x="117.1"/></g>
<g transform="translate(669.5,2515.4)"><use href="#wa"/><use href="#wa" x="58.5"/><use href="#wa" x="117.1"/></g>
<g transform="translate(669.5,2543.4)"><rect class="k4"/><rect x="13.7" class="k4"/><rect x="27.4" class="k4"/><rect x="41.1" class="k4"/><use href="#wa" x="58.5"/><use href="#wa" x="117.1"/></g>
<g transform="translate(669.5,2584.3)"><rect class="k4"/><rect x="13.7" class="k3"/><rect x="27.4" class="k4"/><rect x="41.1" class="k4"/><use href="#wa" x="58.5"/><use href="#wa" x="117.1"/></g>
<g transform="translate(669.5,2612.3)"><rect class="k4"/><rect x="13.7" class="k3"/><rect x="27.4" class="k4"/><rect x="41.1" class="k4"/><use href="#wa" x="58.5"/><use href="#wa" x="117.1"/></g>
<g transform="translate(669.5,2640.3)"><rect class="k4"/><rect x="13.7" class="k4"/><rect x="27.4" class="k3"/><rect x="41.1" class="k4"/><use href="#wa" x="58.5"/><use href="#wa" x="117.1"/></g>
<g transform="translate(669.5,2668.3)"><rect class="k4"/><rect x="13.7" class="k4"/><rect x="27.4" class="k4"/><rect x="41.1" class="k4"/><use href="#wa" x="58.5"/><use href="#wa" x="117.1"/></g>
<g transform="translate(669.5,2701.6)"><use href="#wa"/><use href="#wa" x="58.5"/><use href="#wa" x="117.1"/></g>
<g transform="translate(669.5,2731.8)"><rect class="k4"/><rect x="13.7" class="k3"/><rect x="27.4" class="k3"/><rect x="41.1" class="k4"/><use href="#wa" x="58.5"/><use href="#wa" x="117.1"/></g>
</g>

<g id="heatB" class="hm hB">
<g transform="translate(1781.5,864.2)"><rect class="k9"/><rect x="13.7" class="k9"/><rect x="27.4" class="k9"/><rect x="41.1" class="k10"/><rect x="58.5" class="k6"/><rect x="72.2" class="k6"/><rect x="85.9" class="k6"/><rect x="99.6" class="k4"/><use href="#wb" x="117.1"/></g>
<g transform="translate(1781.5,894.2)"><rect class="k7"/><rect x="13.7" class="k8"/><rect x="27.4" class="k7"/><rect x="41.1" class="k8"/><rect x="58.5" class="k0"/><rect x="72.2" class="k6"/><rect x="85.9" class="k6"/><rect x="99.6" class="k0"/><rect x="117.1" class="k2"/><rect x="130.8" class="k0"/><rect x="144.5" class="k0"/><rect x="158.2" class="k0"/></g>
<g transform="translate(1781.5,924.2)"><rect class="k9"/><rect x="13.7" class="k9"/><rect x="27.4" class="k10"/><rect x="41.1" class="k10"/><rect x="58.5" class="k3"/><rect x="72.2" class="k6"/><rect x="85.9" class="k7"/><rect x="99.6" class="k0"/><rect x="117.1" class="k4"/><rect x="130.8" class="k3"/><rect x="144.5" class="k0"/><rect x="158.2" class="k0"/></g>
<g transform="translate(1781.5,998.5)"><rect class="k7"/><rect x="13.7" class="k7"/><rect x="27.4" class="k7"/><rect x="41.1" class="k5"/><rect x="58.5" class="k5"/><rect x="72.2" class="k5"/><rect x="85.9" class="k1"/><rect x="99.6" class="k5"/><rect x="117.1" class="k9"/><rect x="130.8" class="k6"/><rect x="144.5" class="k5"/><rect x="158.2" class="k6"/></g>
<g transform="translate(1781.5,1102.7)"><rect class="k4"/><rect x="13.7" class="k4"/><rect x="27.4" class="k3"/><rect x="41.1" class="k2"/><rect x="58.5" class="k6"/><rect x="72.2" class="k8"/><rect x="85.9" class="k6"/><rect x="99.6" class="k6"/><rect x="117.1" class="k9"/><rect x="130.8" class="k9"/><rect x="144.5" class="k9"/><rect x="158.2" class="k10"/></g>
<g transform="translate(1781.5,1693.3)"><rect class="k9"/><rect x="13.7" class="k9"/><rect x="27.4" class="k9"/><rect x="41.1" class="k9"/><rect x="58.5" class="k0"/><rect x="72.2" class="k3"/><rect x="85.9" class="k6"/><rect x="99.6" class="k0"/><rect x="117.1" class="k3"/><rect x="130.8" class="k6"/><rect x="144.5" class="k3"/><rect x="158.2" class="k5"/></g>
<g transform="translate(1781.5,1730.4)"><rect class="k0"/><rect x="13.7" class="k0"/><rect x="27.4" class="k1"/><rect x="41.1" class="k3"/><use href="#wb" x="58.5"/><use href="#wb" x="117.1"/></g>
<g transform="translate(1781.5,1760.4)"><rect class="k4"/><rect x="13.7" class="k4"/><rect x="27.4" class="k4"/><rect x="41.1" class="k6"/><use href="#wb" x="58.5"/><use href="#wb" x="117.1"/></g>
<g transform="translate(1781.5,1797.5)"><rect class="k0"/><rect x="13.7" class="k0"/><rect x="27.4" class="k0"/><rect x="41.1" class="k1"/><use href="#wb" x="58.5"/><use href="#wb" x="117.1"/></g>
<g transform="translate(1781.5,1832.2)"><rect class="k4"/><rect x="13.7" class="k4"/><rect x="27.4" class="k4"/><rect x="41.1" class="k6"/><use href="#wb" x="58.5"/><use href="#wb" x="117.1"/></g>
<g transform="translate(1781.5,1869.4)"><use href="#wb"/><rect x="58.5" class="k1"/><rect x="72.2" class="k4"/><rect x="85.9" class="k4"/><rect x="99.6" class="k4"/><use href="#wb" x="117.1"/></g>
<g transform="translate(1781.5,1899.4)"><use href="#wb"/><use href="#wb" x="58.5"/><rect x="117.1" class="k9"/><rect x="130.8" class="k9"/><rect x="144.5" class="k9"/><rect x="158.2" class="k9"/></g>
<g transform="translate(1781.5,2075.4)"><rect class="k0"/><rect x="13.7" class="k0"/><rect x="27.4" class="k3"/><rect x="41.1" class="k0"/><rect x="58.5" class="k9"/><rect x="72.2" class="k9"/><rect x="85.9" class="k10"/><rect x="99.6" class="k10"/><rect x="117.1" class="k8"/><rect x="130.8" class="k8"/><rect x="144.5" class="k8"/><rect x="158.2" class="k6"/></g>
<g transform="translate(1781.5,2110.1)"><use href="#wb"/><rect x="58.5" class="k6"/><rect x="72.2" class="k6"/><rect x="85.9" class="k2"/><rect x="99.6" class="k3"/><rect x="117.1" class="k2"/><rect x="130.8" class="k2"/><rect x="144.5" class="k0"/><rect x="158.2" class="k0"/></g>
<g transform="translate(1781.5,2147.3)"><use href="#wb"/><use href="#wb" x="58.5"/><use href="#wb" x="117.1"/></g>
<g transform="translate(1781.5,2177.3)"><use href="#wb"/><rect x="58.5" class="k8"/><rect x="72.2" class="k8"/><rect x="85.9" class="k9"/><rect x="99.6" class="k9"/><rect x="117.1" class="k7"/><rect x="130.8" class="k7"/><rect x="144.5" class="k7"/><rect x="158.2" class="k4"/></g>
<g transform="translate(1781.5,2216.8)"><use href="#wb"/><use href="#wb" x="58.5"/><use href="#wb" x="117.1"/></g>
<g transform="translate(1781.5,2246.8)"><use href="#wb"/><rect x="58.5" class="k8"/><rect x="72.2" class="k8"/><rect x="85.9" class="k9"/><rect x="99.6" class="k9"/><rect x="117.1" class="k8"/><rect x="130.8" class="k8"/><rect x="144.5" class="k7"/><rect x="158.2" class="k4"/></g>
<g transform="translate(1781.5,2286.2)"><use href="#wb"/><use href="#wb" x="58.5"/><use href="#wb" x="117.1"/></g>
<g transform="translate(1781.5,2316.2)"><rect class="k2"/><rect x="13.7" class="k0"/><rect x="27.4" class="k0"/><rect x="41.1" class="k0"/><rect x="58.5" class="k8"/><rect x="72.2" class="k8"/><rect x="85.9" class="k9"/><rect x="99.6" class="k9"/><rect x="117.1" class="k7"/><rect x="130.8" class="k7"/><rect x="144.5" class="k7"/><rect x="158.2" class="k4"/></g>
<g transform="translate(1781.5,2527)"><rect class="k6"/><rect x="13.7" class="k6"/><rect x="27.4" class="k6"/><rect x="41.1" class="k6"/><rect x="58.5" class="k10"/><rect x="72.2" class="k10"/><rect x="85.9" class="k11"/><rect x="99.6" class="k11"/><rect x="117.1" class="k6"/><rect x="130.8" class="k6"/><rect x="144.5" class="k5"/><rect x="158.2" class="k5"/></g>
<g transform="translate(1781.5,2566.5)"><use href="#wb"/><rect x="58.5" class="k2"/><rect x="72.2" class="k4"/><rect x="85.9" class="k4"/><rect x="99.6" class="k4"/><use href="#wb" x="117.1"/></g>
<g transform="translate(1781.5,2596.5)"><rect class="k6"/><rect x="13.7" class="k6"/><rect x="27.4" class="k7"/><rect x="41.1" class="k6"/><rect x="58.5" class="k10"/><rect x="72.2" class="k9"/><rect x="85.9" class="k12"/><rect x="99.6" class="k12"/><rect x="117.1" class="k6"/><rect x="130.8" class="k6"/><rect x="144.5" class="k6"/><rect x="158.2" class="k5"/></g>
<g transform="translate(1781.5,2626.5)"><rect class="k4"/><rect x="13.7" class="k4"/><rect x="27.4" class="k4"/><rect x="41.1" class="k1"/><rect x="58.5" class="k9"/><rect x="72.2" class="k9"/><rect x="85.9" class="k10"/><rect x="99.6" class="k11"/><rect x="117.1" class="k8"/><rect x="130.8" class="k7"/><rect x="144.5" class="k7"/><rect x="158.2" class="k8"/></g>
<g transform="translate(1781.5,2666)"><rect class="k6"/><rect x="13.7" class="k6"/><rect x="27.4" class="k7"/><rect x="41.1" class="k6"/><rect x="58.5" class="k10"/><rect x="72.2" class="k9"/><rect x="85.9" class="k12"/><rect x="99.6" class="k12"/><rect x="117.1" class="k6"/><rect x="130.8" class="k6"/><rect x="144.5" class="k6"/><rect x="158.2" class="k5"/></g>
<g transform="translate(1781.5,2700.7)"><rect class="k6"/><rect x="13.7" class="k6"/><rect x="27.4" class="k7"/><rect x="41.1" class="k6"/><rect x="58.5" class="k10"/><rect x="72.2" class="k9"/><rect x="85.9" class="k12"/><rect x="99.6" class="k12"/><rect x="117.1" class="k6"/><rect x="130.8" class="k6"/><rect x="144.5" class="k5"/><rect x="158.2" class="k5"/></g>
</g>

<path d="M670,2767H724M729,2767H783M787,2767H841M1782,2740H1836M1841,2740H1895M1900,2740H1955" stroke="#000" stroke-width="4.5"/>
<text transform="translate(670.5,2797) scale(0.84,1)">Root</text>
<text transform="translate(730,2797) scale(0.84,1)">Bulb</text>
<text transform="translate(787.5,2797) scale(0.84,1)">Leaf</text>
<text transform="translate(1782.5,2770) scale(0.84,1)">Root</text>
<text transform="translate(1842,2770) scale(0.84,1)">Bulb</text>
<text transform="translate(1900.5,2770) scale(0.84,1)">Leaf</text>
<g id="cbarA">
<rect x="586" y="2855" width="11" height="30" fill="url(#gz)"/>
<rect x="596.5" y="2855" width="15.5" height="30" fill="#a9d18e"/><rect x="611.7" y="2855" width="15.5" height="30" fill="#a3cd85"/><rect x="626.9" y="2855" width="15.5" height="30" fill="#9bc77b"/><rect x="642.1" y="2855" width="15.5" height="30" fill="#93c26e"/><rect x="657.3" y="2855" width="15.5" height="30" fill="#8abc62"/><rect x="672.5" y="2855" width="15.5" height="30" fill="#80b453"/><rect x="687.7" y="2855" width="15.5" height="30" fill="#79ad4b"/><rect x="702.9" y="2855" width="15.5" height="30" fill="#71a545"/><rect x="718.1" y="2855" width="15.5" height="30" fill="#699c40"/><rect x="733.3" y="2855" width="15.5" height="30" fill="#5f933b"/><rect x="748.5" y="2855" width="15.5" height="30" fill="#4f8a32"/><rect x="763.7" y="2855" width="15.5" height="30" fill="#3b9a2c"/><rect x="778.9" y="2855" width="15.5" height="30" fill="#1e4d14"/><rect x="794.1" y="2855" width="30.9" height="30" fill="#000"/>
<text transform="translate(687,2845) scale(0.84,1)">log<tspan dy="4" style="font-size:16px">2</tspan><tspan dy="-4">(TPM+1)</tspan></text>
<text transform="translate(584,2913) scale(0.84,1)" text-anchor="middle">0</text>
<text transform="translate(656.7,2913) scale(0.84,1)" text-anchor="middle">5</text>
<text transform="translate(737,2913) scale(0.84,1)" text-anchor="middle">10</text>
<text transform="translate(825,2913) scale(0.84,1)" text-anchor="middle">15</text>
</g>
<g id="cbarB" transform="translate(1130,0)">
<rect x="586" y="2855" width="11" height="30" fill="url(#gz)"/>
<rect x="596.5" y="2855" width="15.5" height="30" fill="#a9d18e"/><rect x="611.7" y="2855" width="15.5" height="30" fill="#a3cd85"/><rect x="626.9" y="2855" width="15.5" height="30" fill="#9bc77b"/><rect x="642.1" y="2855" width="15.5" height="30" fill="#93c26e"/><rect x="657.3" y="2855" width="15.5" height="30" fill="#8abc62"/><rect x="672.5" y="2855" width="15.5" height="30" fill="#80b453"/><rect x="687.7" y="2855" width="15.5" height="30" fill="#79ad4b"/><rect x="702.9" y="2855" width="15.5" height="30" fill="#71a545"/><rect x="718.1" y="2855" width="15.5" height="30" fill="#699c40"/><rect x="733.3" y="2855" width="15.5" height="30" fill="#5f933b"/><rect x="748.5" y="2855" width="15.5" height="30" fill="#4f8a32"/><rect x="763.7" y="2855" width="15.5" height="30" fill="#3b9a2c"/><rect x="778.9" y="2855" width="15.5" height="30" fill="#1e4d14"/><rect x="794.1" y="2855" width="30.9" height="30" fill="#000"/>
<text transform="translate(687,2845) scale(0.84,1)">log<tspan dy="4" style="font-size:16px">2</tspan><tspan dy="-4">(TPM+1)</tspan></text>
<text transform="translate(584,2913) scale(0.84,1)" text-anchor="middle">0</text>
<text transform="translate(656.7,2913) scale(0.84,1)" text-anchor="middle">5</text>
<text transform="translate(737,2913) scale(0.84,1)" text-anchor="middle">10</text>
<text transform="translate(825,2913) scale(0.84,1)" text-anchor="middle">15</text>
</g>

<g id="connectors">
<path class="cn" d="M869,725.7L1058,1459.5M869,755.9L1058,1487M869,846.3L1058,1514M869,997.1L1058,2190.4M869,1087.5L1058,962.6M869,1117.7L1058,1005M869,1479.5L1058,1700.1M869,1569.9L1058,1725.5M869,1600.1L1058,1738.9M869,1630.2L1058,1790.7M869,1660.4L1058,1854M869,1690.5L1058,1883.5M869,1931.7L1058,1927.8M869,1992L1058,1088M869,2022.2L1058,1140.5M869,2052.3L1058,1191.5M869,2082.5L1058,1214.5M869,2414.1L1058,2306M869,2444.3L1058,2333.9M869,2474.4L1058,1602.8M869,2504.6L1058,1628.4M869,2534.7L1058,2027M869,2564.9L1058,2050.9M869,2715.6L1058,2074.8M869,2595L1058,2599.9M869,2625.2L1058,2625.5M869,2655.3L1058,2653.3M869,2685.5L1058,2679.5M869,2745.8L1058,2707.5"/>
<path class="cnB" d="M1961,878.5L2146,965M1961,913.2L2146,1003M1961,948L2146,931.7M1961,1017.5L2146,2127.6M1961,1121.7L2146,2701.5M1961,1851.2L2146,1230M1961,1747L2146,1304.5M1961,1781.7L2146,1336.6M1961,1886L2146,1596.4M1961,1920.7L2146,1638M1961,2302.8L2146,1903M1961,2094.4L2146,1987M1961,2337.6L2146,2063.8M1961,2233.4L2146,2308M1961,2268.1L2146,2340M1961,2129.1L2146,2371.8M1961,1712.3L2146,2427M1961,2685L2146,2503.8M1961,2546L2146,2607.8"/>
</g>

<g id="chromA">
<text class="b" transform="translate(1076,910) scale(0.93,1)" text-anchor="middle" style="font-size:31px">Chr4</text>
<text class="b" transform="translate(1076,1370) scale(0.93,1)" text-anchor="middle" style="font-size:31px">Chr2</text>
<text class="b" transform="translate(1078,2549) scale(0.93,1)" text-anchor="middle" style="font-size:31px">Chr7</text>
<text class="cl" transform="translate(1189,937) scale(0.97,1)" text-anchor="end">(Mb)</text>
<text class="cl" transform="translate(1189,1421) scale(0.97,1)" text-anchor="end">(Mb)</text>
<text class="cl" transform="translate(1189,2584) scale(0.97,1)" text-anchor="end">(Mb)</text>
<path class="lu" d="M1031,940.3H1076M1031,1147.9H1076"/>
<path class="lr" d="M1031,972.9H1076M1031,1032.7H1076M1031,1094.3H1076M1031,1118H1076M1031,1525H1076M1031,1681H1076M1031,1761H1076M1031,1785.7H1076M1031,1813.6H1076M1031,1953.9H1076M1031,2367.6H1076M1032,2702.4H1076M1032,2738.3H1076"/>
<path class="ln" d="M1031,998.3H1076M1031,1068.4H1076M1031,1172H1076M1031,1222.9H1076M1031,1433.6H1076M1031,1584H1076M1031,1643.8H1076M1031,1731.5H1076M1031,1836H1076M1031,1863H1076M1031,1901.3H1076M1031,1924.4H1076M1031,1994.5H1076M1031,2106.1H1076M1031,2273.6H1076M1032,2586H1076"/>
<path class="chr" d="M1076.3,932.7V1235M1076.3,1384.5V2417M1076.3,2568.5V2771.8"/>
<use href="#bk" x="1076.3" y="1040"/><use href="#bk" x="1076.3" y="1535"/><use href="#bk" x="1076.3" y="1655"/><use href="#bk" x="1076.3" y="1968"/><use href="#bk" x="1076.3" y="2125"/><use href="#bk" x="1076.3" y="2225"/>
<g class="tri">
<use href="#ta" x="1076.3" y="954.3"/><use href="#da" x="1076.3" y="1013.5"/><use href="#ta" x="1076.3" y="1079.5"/><use href="#ta" x="1076.3" y="1132"/><use href="#ta" x="1076.3" y="1183"/><use href="#ta" x="1076.3" y="1206"/>
<use href="#ta" x="1076.3" y="1450.5"/><use href="#ta" x="1076.3" y="1478.5"/><use href="#ta" x="1076.3" y="1505"/><use href="#ta" x="1076.3" y="1594.3"/><use href="#ta" x="1076.3" y="1619.9"/><use href="#ta" x="1076.3" y="1691.6"/><use href="#ta" x="1076.3" y="1717"/><use href="#da" x="1076.3" y="1747.4"/><use href="#da" x="1076.3" y="1799.2"/><use href="#ta" x="1076.3" y="1845.5"/><use href="#ta" x="1076.3" y="1875"/><use href="#da" x="1076.3" y="1936.3"/><use href="#ta" x="1076.3" y="2018.5"/><use href="#ta" x="1076.3" y="2042.4"/><use href="#ta" x="1076.3" y="2066.3"/><use href="#ta" x="1076.3" y="2181.9"/><use href="#ta" x="1076.3" y="2297.5"/><use href="#ta" x="1076.3" y="2325.4"/>
<use href="#da" x="1076.3" y="2608.4"/><use href="#da" x="1076.3" y="2634"/><use href="#da" x="1076.3" y="2661.8"/><use href="#da" x="1076.3" y="2688"/><use href="#da" x="1076.3" y="2716"/>
</g>
<use href="#st" class="su" x="1031" y="940.3"/><use href="#st" class="su" x="1031" y="1147.9"/>
<use href="#st" class="sr" x="1031" y="972.9"/><use href="#st" class="sr" x="1031" y="1032.7"/><use href="#st" class="sr" x="1031" y="1094.3"/><use href="#st" class="sr" x="1031" y="1118"/><use href="#st" class="sr" x="1031" y="1525"/><use href="#st" class="sr" x="1031" y="1681"/><use href="#st" class="sr" x="1031" y="1761"/><use href="#st" class="sr" x="1031" y="1785.7"/><use href="#st" class="sr" x="1031" y="1813.6"/><use href="#st" class="sr" x="1031" y="1953.9"/><use href="#st" class="sr" x="1031" y="2367.6"/><use href="#st" class="sr" x="1032" y="2702.4"/><use href="#st" class="sr" x="1032" y="2738.3"/>
<use href="#st" class="sn" x="1031" y="998.3"/><use href="#st" class="sn" x="1031" y="1068.4"/><use href="#st" class="sn" x="1031" y="1172"/><use href="#st" class="sn" x="1031" y="1222.9"/><use href="#st" class="sn" x="1031" y="1433.6"/><use href="#st" class="sn" x="1031" y="1584"/><use href="#st" class="sn" x="1031" y="1643.8"/><use href="#st" class="sn" x="1031" y="1731.5"/><use href="#st" class="sn" x="1031" y="1836"/><use href="#st" class="sn" x="1031" y="1863"/><use href="#st" class="sn" x="1031" y="1901.3"/><use href="#st" class="sn" x="1031" y="1924.4"/><use href="#st" class="sn" x="1031" y="1994.5"/><use href="#st" class="sn" x="1031" y="2106.1"/><use href="#st" class="sn" x="1031" y="2273.6"/><use href="#st" class="sn" x="1032" y="2586"/>
<g class="cl" transform="translate(1097,0) scale(0.98,1)">
<text y="963">1139.56</text><text y="1022">1136.29</text><text y="1088">1009.15</text><text y="1140.5">1008.81</text><text y="1191">1008.68</text><text y="1214.5">1008.35</text>
<text y="1459">2007.50</text><text y="1487">2007.27</text><text y="1513.5">2007.18</text><text y="1603">1492.71</text><text y="1628.5">1492.42</text><text y="1700">1291.37</text><text y="1725.5">1290.65</text><text y="1756">1289.45</text><text y="1808">1288.81</text><text y="1854">1287.45</text><text y="1883.5">1287.44</text><text y="1945">1284.15</text><text y="2027">371.27</text><text y="2051">371.26</text><text y="2075">371.25</text><text y="2190.5">308.79</text><text y="2306">88.47</text><text y="2334">88.33</text>
<text y="2617">1165.79</text><text y="2642.5">1165.88</text><text y="2670.5">1166.02</text><text y="2696.5">1166.15</text><text y="2724.5">1166.19</text>
</g>
</g>

<g id="chromB">
<text class="b" transform="translate(2164,853.6) scale(0.93,1)" text-anchor="middle" style="font-size:31px">Chr8</text>
<text class="b" transform="translate(2164,1161.6) scale(0.93,1)" text-anchor="middle" style="font-size:31px">Chr3</text>
<text class="b" transform="translate(2164,1517.4) scale(0.93,1)" text-anchor="middle" style="font-size:31px">Chr1</text>
<text class="b" transform="translate(2164,1813.8) scale(0.93,1)" text-anchor="middle" style="font-size:31px">Chr5</text>
<text class="b" transform="translate(2164,2247.4) scale(0.93,1)" text-anchor="middle" style="font-size:31px">Chr4</text>
<text class="cl" transform="translate(2267,900) scale(0.97,1)" text-anchor="end">(Mb)</text>
<text class="cl" transform="translate(2267,1198.5) scale(0.97,1)" text-anchor="end">(Mb)</text>
<text class="cl" transform="translate(2267,1563.5) scale(0.97,1)" text-anchor="end">(Mb)</text>
<text class="cl" transform="translate(2267,1870.5) scale(0.97,1)" text-anchor="end">(Mb)</text>
<text class="cl" transform="translate(2267,2272.5) scale(0.97,1)" text-anchor="end">(Mb)</text>
<path class="lr" d="M2117,995H2163M2117,1568.8H2163M2117,1609H2163M2117,1650H2163M2137,2282.5H2163M2117,2381.4H2163M2117,2493H2163M2117,2580.4H2163M2117,2618.6H2163"/>
<path class="ln" d="M2117,901.8H2163M2117,971H2163M2117,1030.8H2163M2117,1202.7H2163M2117,1242H2155M2117,1277H2163M2117,1307.6H2163M2117,1330H2163M2117,1359.8H2163M2117,1871.2H2163M2117,1914.5H2163M2117,1961.7H2163M2117,1995.5H2163M2117,2037H2163M2117,2081.6H2163M2117,2105H2163M2117,2419.6H2163M2117,2456.6H2163M2117,2534.4H2163M2117,2669.6H2163M2117,2714.3H2163"/>
<path class="chr" d="M2163.3,871.4V1043.3M2163.3,1182.6V1363.4M2163.3,1528.6V1685.7M2163.3,1825.3V2142M2163.3,2273V2745"/>
<use href="#bk" x="2163.3" y="1252"/><use href="#bk" x="2163.3" y="1925"/><use href="#bk" x="2163.3" y="2008"/><use href="#bk" x="2163.3" y="2398"/><use href="#bk" x="2163.3" y="2466"/><use href="#bk" x="2163.3" y="2548"/><use href="#bk" x="2163.3" y="2632"/>
<g class="tri">
<use href="#tb" x="2163.5" y="921.6"/><use href="#tb" x="2163.5" y="955"/><use href="#db" x="2163.5" y="1013"/>
<use href="#tb" x="2163.5" y="1219.6"/><use href="#tb" x="2163.5" y="1294"/><use href="#db" x="2163.5" y="1346.5"/>
<use href="#tb" x="2163.5" y="1586.6"/><use href="#tb" x="2163.5" y="1628"/>
<use href="#tb" x="2163.5" y="1894"/><use href="#tb" x="2163.5" y="1977"/><use href="#tb" x="2163.5" y="2054"/><use href="#tb" x="2163.5" y="2118"/>
<use href="#tb" x="2163.5" y="2298.5"/><use href="#tb" x="2163.5" y="2330.4"/><use href="#tb" x="2163.5" y="2362.3"/><use href="#db" x="2163.5" y="2437.5"/><use href="#db" x="2163.5" y="2514.4"/><use href="#tb" x="2163.5" y="2597.2"/><use href="#tb" x="2163.5" y="2691"/>
</g>
<use href="#st" class="sr" x="2117" y="995"/><use href="#st" class="sr" x="2117" y="1568.8"/><use href="#st" class="sr" x="2117" y="1609"/><use href="#st" class="sr" x="2117" y="1650"/><use href="#st" class="sr" x="2117" y="2282.5"/><use href="#st" class="sr" x="2117" y="2381.4"/><use href="#st" class="sr" x="2117" y="2493"/><use href="#st" class="sr" x="2117" y="2580.4"/><use href="#st" class="sr" x="2117" y="2618.6"/>
<use href="#st" class="sn" x="2117" y="901.8"/><use href="#st" class="sn" x="2117" y="971"/><use href="#st" class="sn" x="2117" y="1030.8"/><use href="#st" class="sn" x="2117" y="1202.7"/><use href="#st" class="sn" x="2117" y="1242"/><use href="#st" class="sn" x="2117" y="1277"/><use href="#st" class="sn" x="2117" y="1307.6"/><use href="#st" class="sn" x="2117" y="1330"/><use href="#st" class="sn" x="2117" y="1359.8"/><use href="#st" class="sn" x="2117" y="1871.2"/><use href="#st" class="sn" x="2117" y="1914.5"/><use href="#st" class="sn" x="2117" y="1961.7"/><use href="#st" class="sn" x="2117" y="1995.5"/><use href="#st" class="sn" x="2117" y="2037"/><use href="#st" class="sn" x="2117" y="2081.6"/><use href="#st" class="sn" x="2117" y="2105"/><use href="#st" class="sn" x="2117" y="2419.6"/><use href="#st" class="sn" x="2117" y="2456.6"/><use href="#st" class="sn" x="2117" y="2534.4"/><use href="#st" class="sn" x="2117" y="2669.6"/><use href="#st" class="sn" x="2117" y="2714.3"/>
<g class="cl" transform="translate(2188,0) scale(0.98,1)">
<text y="930.5">218.75</text><text y="964">219.03</text><text y="1022">220.39</text>
<text y="1228.5">268.28</text><text y="1303">1675.31</text><text y="1355.5">1692.82</text>
<text y="1595.5">969.55</text><text y="1637">969.35</text>
<text y="1903">157.84</text><text y="1986">245.78</text><text y="2063">781.57</text><text y="2127">781.86</text>
<text y="2307.5">145.05</text><text y="2339.5">145.13</text><text y="2371.5">145.24</text><text y="2446.5">186.74</text><text y="2523.5">233.58</text><text y="2606">896.55</text><text y="2700">1264.95</text>
</g>
</g>
</svg>
